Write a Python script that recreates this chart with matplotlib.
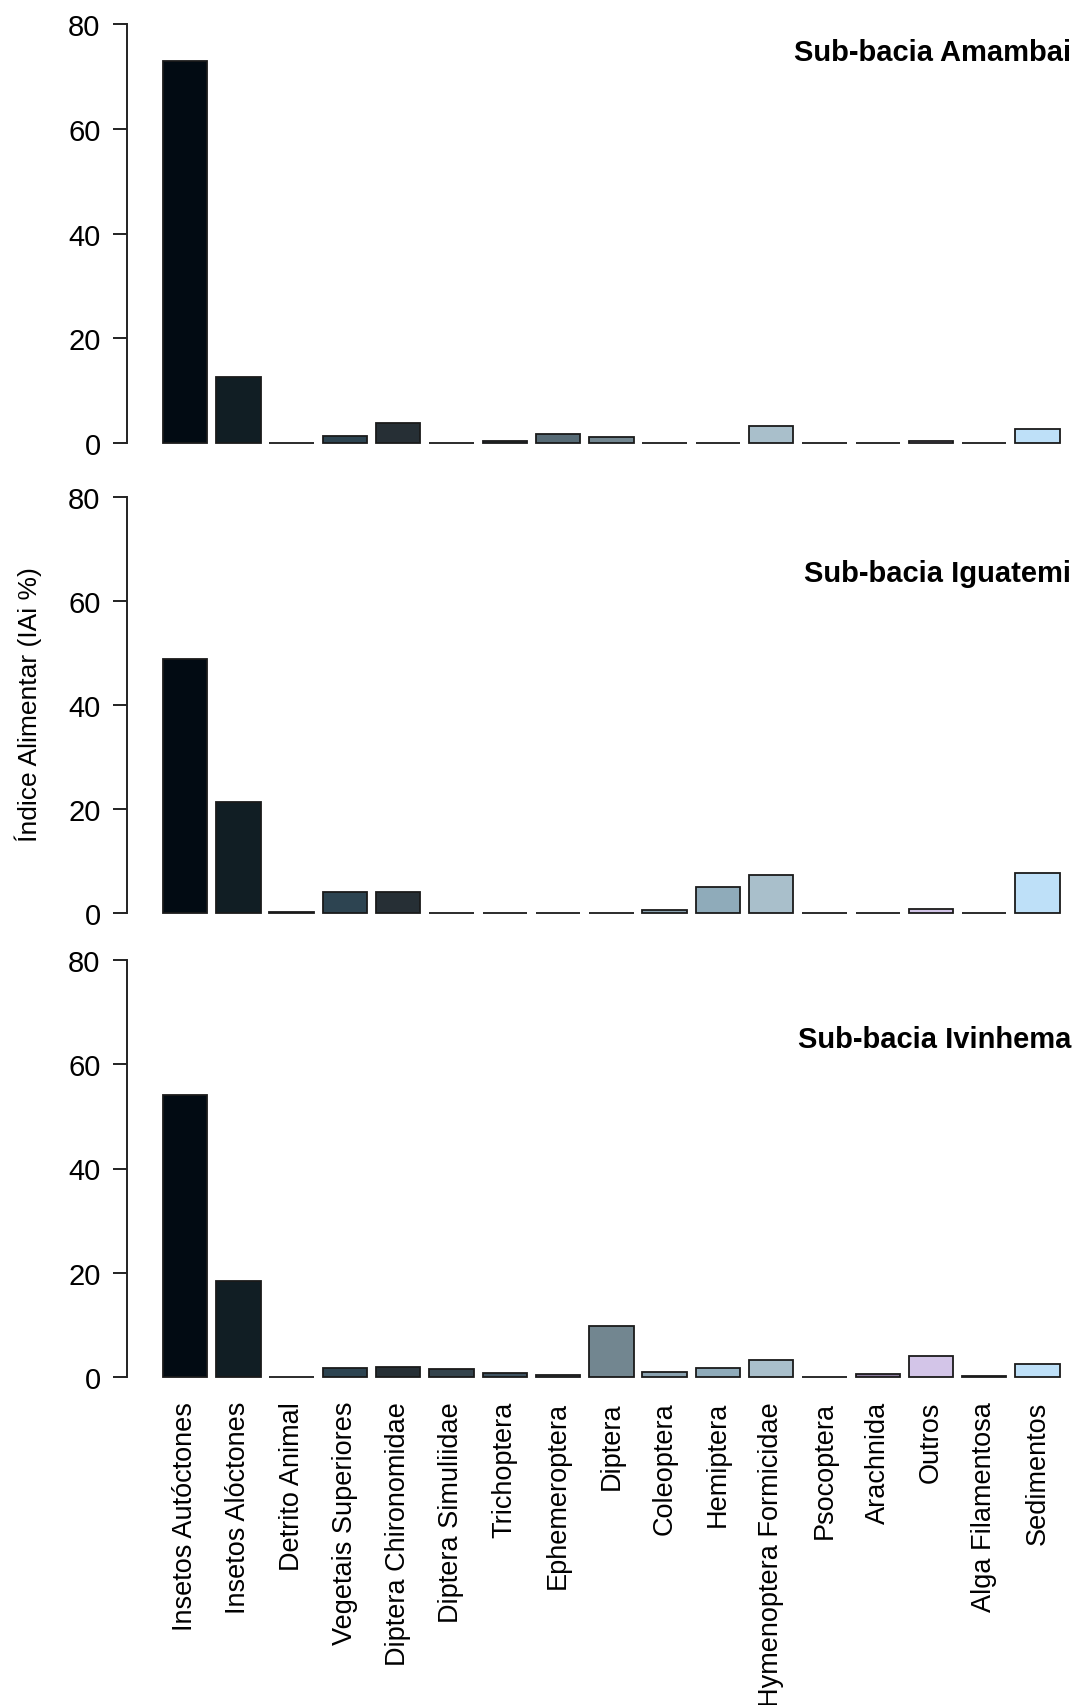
import matplotlib.pyplot as plt
import numpy as np

plt.rcParams['font.family'] = ['Liberation Sans', 'DejaVu Sans']

categorias = ['Insetos Autóctones', 'Insetos Alóctones', 'Detrito Animal',
              'Vegetais Superiores', 'Diptera Chironomidae', 'Diptera Simuliidae',
              'Trichoptera', 'Ephemeroptera', 'Diptera', 'Coleoptera', 'Hemiptera',
              'Hymenoptera Formicidae', 'Psocoptera', 'Arachnida', 'Outros',
              'Alga Filamentosa', 'Sedimentos']

amambai = [72.9, 12.6, 0.1, 1.4, 3.9, 0.1, 0.5, 1.7, 1.1, 0.1, 0.05,
           3.2, 0.05, 0.1, 0.5, 0.05, 2.7]
iguatemi = [48.8, 21.3, 0.25, 4.1, 4.1, 0.1, 0.05, 0.05, 0.05, 0.6, 5.0,
            7.35, 0.05, 0.05, 0.9, 0.05, 7.7]
ivinhema = [54.1, 18.4, 0.05, 1.7, 2.0, 1.5, 0.8, 0.5, 9.9, 1.1, 1.8,
            3.3, 0.05, 0.6, 4.1, 0.2, 2.5]

cores = ['#020B13', '#111E24', '#1F272C', '#2D4451', '#262F35', '#34434C',
         '#3F5361', '#566A75', '#728690', '#8AA2B0', '#8FABBA', '#A9BFCB',
         '#5A6670', '#8C7C9E', '#D3C5E8', '#3A3A3A', '#BEE0F8']

paineis = [('Sub-bacia Amambai', amambai, 74.6),
           ('Sub-bacia Iguatemi', iguatemi, 65.4),
           ('Sub-bacia Ivinhema', ivinhema, 64.8)]

W, H = 1075, 1706
fig = plt.figure(figsize=(W / 100, H / 100), dpi=100)

# pixel extents (top, bottom) of each panel
caixas = [(8, 461), (481, 931), (944, 1395)]
esq = 127

x = np.arange(len(categorias)) * 1.2 + 0.7
largura = 1.0
px_por_unid = 44.4
xmin = 0.2 - 0.808
xmax = xmin + (W - esq) / px_por_unid

for k, ((titulo, vals, ytit), (top, bot)) in enumerate(zip(paineis, caixas)):
    ax = fig.add_axes([esq / W, 1 - bot / H, (W - esq) / W, (bot - top) / H])
    ax.bar(x, vals, width=largura, color=cores, edgecolor='#1a1a1a', linewidth=1.3)
    ax.set_xlim(xmin, xmax)
    ax.set_ylim(-3.2, 83.2)
    for s in ['top', 'right', 'bottom']:
        ax.spines[s].set_visible(False)
    ax.spines['left'].set_bounds(0, 80)
    ax.spines['left'].set_linewidth(1.4)
    ax.spines['left'].set_color('#222222')
    ax.set_yticks([0, 20, 40, 60, 80])
    ax.tick_params(axis='y', length=10, width=1.4, color='#222222',
                   labelsize=21, pad=9)
    ax.text(xmax - 0.08, ytit, titulo, ha='right', va='center',
            fontsize=21, fontweight='bold')
    if k == 2:
        ax.set_xticks(x)
        ax.set_xticklabels(categorias, rotation=90, fontsize=19.5, va='top')
        ax.tick_params(axis='x', length=0, pad=5)
    else:
        ax.set_xticks([])

fig.text(28 / W, 1 - 705 / H, 'Índice Alimentar (IAi %)', rotation=90,
         ha='center', va='center', fontsize=19)

fig.savefig('out.png', dpi=100)
